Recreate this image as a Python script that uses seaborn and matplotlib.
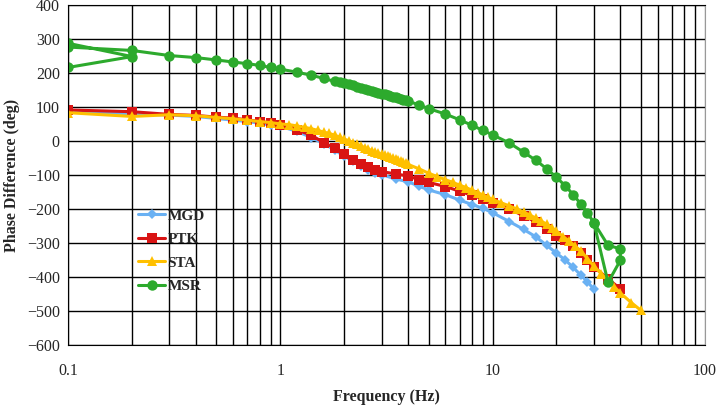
import pandas as pd
import seaborn as sns
import matplotlib
matplotlib.use("Agg")
import matplotlib.pyplot as plt
from matplotlib.ticker import LogLocator, NullFormatter, MultipleLocator

# frequency grids (Hz)
f_mgd = [0.1, 0.2, 0.3, 0.4, 0.5, 0.6, 0.7, 0.8, 0.9, 1.0,
         1.2, 1.4, 1.6, 1.8, 2.0, 2.2, 2.4, 2.6, 2.8, 3.0,
         3.5, 4, 4.5, 5, 6, 7, 8, 9, 10,
         12, 14, 16, 18, 20, 22, 24, 26, 28, 30]
f_ptk = f_mgd + [35, 40]
f_sta = [0.1, 0.2, 0.3, 0.4, 0.5, 0.6, 0.7, 0.8, 0.9, 1.0,
         1.1, 1.2, 1.3, 1.4, 1.5, 1.6, 1.7, 1.8, 1.9, 2.0,
         2.1, 2.2, 2.3, 2.4, 2.5, 2.6, 2.7, 2.8, 2.9, 3.0,
         3.1, 3.2, 3.3, 3.4, 3.5, 3.6, 3.7, 3.8, 3.9, 4.0,
         4.5, 5, 5.5, 6, 6.5, 7, 7.5, 8, 8.5, 9, 9.5, 10,
         11, 12, 13, 14, 15, 16, 17, 18, 19, 20,
         21.5, 23, 24.5, 26, 28, 30, 32.5, 35, 37.5, 40, 45, 50]
f_msr = [0.1, 0.2, 0.1, 0.1, 0.2,
         0.3, 0.4, 0.5, 0.6, 0.7, 0.8, 0.9, 1.0,
         1.2, 1.4, 1.6, 1.8,
         1.9, 2.0, 2.1, 2.2, 2.3, 2.4, 2.5, 2.6, 2.7, 2.8, 2.9, 3.0,
         3.1, 3.2, 3.3, 3.4, 3.5, 3.6, 3.7, 3.8, 3.9, 4.0,
         4.5, 5, 6, 7, 8, 9, 10,
         12, 14, 16, 18, 20, 22, 24, 26, 28, 30,
         35, 40, 40, 35, 30]

# phase difference (deg)
mgd = [85, 80, 76, 72, 66, 61, 57, 52, 47, 43,
       28, 10, -8, -26, -45, -60, -74, -85, -93, -99,
       -112, -120, -133, -144, -158, -174, -187, -198, -211,
       -237, -260, -282, -307, -330, -350, -372, -394, -414, -436]
ptk = [91, 86, 78, 75, 70, 67, 62, 57, 53, 47,
       32, 17, -5, -20, -37, -56, -69, -78, -85, -90,
       -97, -103, -114, -122, -134, -148, -160, -170, -181,
       -200, -220, -238, -258, -278, -290, -310, -330, -350, -370,
       -405, -435]
sta = [83, 72, 77, 74, 69, 65, 61, 57, 54, 50,
       48, 44, 40, 36, 31, 26, 22, 17, 11, 5,
       1, -5, -10, -15, -20, -24, -29, -33, -36, -39,
       -42, -45, -48, -51, -54, -57, -60, -63, -66, -69,
       -82, -95, -105, -114, -122, -130, -137, -145, -152, -159, -166, -172,
       -182, -191, -200, -209, -218, -227, -236, -245, -255, -265,
       -281, -295, -309, -323, -346, -368, -390, -410, -429, -447, -475, -498]
msr = [216, 248, 287, 276, 266,
       251, 245, 238, 232, 227, 222, 216, 211,
       202, 193, 184, 175,
       172, 169, 166, 163, 160, 157, 154, 151, 148, 145, 142, 139,
       137, 135, 133, 130, 128, 126, 124, 121, 119, 117,
       106, 95, 79, 62, 46, 31, 18,
       -6, -33, -57, -82, -107, -132, -158, -185, -212, -240,
       -307, -317, -351, -416, -240]

names = ["MGD", "PTK", "STA", "MSR"]
freqs = [f_mgd, f_ptk, f_sta, f_msr]
phases = [mgd, ptk, sta, msr]
palette = {"MGD": "#6AB1F3", "PTK": "#D91414", "STA": "#FFC000", "MSR": "#2DAA2D"}
markers = {"MGD": "D", "PTK": "s", "STA": "^", "MSR": "o"}
msizes = {"MGD": 5.5, "PTK": 7, "STA": 7, "MSR": 7.5}

xticks = [0.1, 1, 10, 100]
xticklabels = ["0.1", "1", "10", "100"]

sns.set_style("white")
plt.rcParams["font.family"] = ["Liberation Serif", "DejaVu Serif"]

fig = plt.figure(figsize=(7.17, 4.05), dpi=100)
ax = fig.add_axes([0.095, 0.148, 0.888, 0.840])

for name, f, p in zip(names, freqs, phases):
    df = pd.DataFrame({"freq": f, "phase": p})
    sns.lineplot(
        x="freq",
        y="phase",
        data=df,
        sort=False,
        estimator=None,
        color=palette[name],
        marker=markers[name],
        markersize=msizes[name],
        markeredgewidth=0,
        linewidth=2.2,
        label=name,
        ax=ax,
    )

ax.set_xscale("log")
ax.set(xlim=(0.1, 100), ylim=(-600, 400))
ax.set_xticks(xticks)
ax.set_xticklabels(xticklabels)
ax.xaxis.set_minor_locator(LogLocator(base=10, subs=range(2, 10)))
ax.xaxis.set_minor_formatter(NullFormatter())
ax.yaxis.set_major_locator(MultipleLocator(100))
ax.grid(which="both", axis="both", color="black", linewidth=1.0)
ax.set_axisbelow(True)
ax.tick_params(which="both", length=0, labelsize=11.5, pad=6)
ax.tick_params(axis="x", pad=13)
for side in ["left", "bottom", "top"]:
    ax.spines[side].set_color("black")
ax.spines["right"].set_color("#999999")
ax.xaxis.get_gridlines()[-1].set_color("#999999")

ax.set_xlabel("Frequency (Hz)", fontsize=11.5, fontweight="bold", labelpad=7)
ax.set_ylabel("Phase Difference (deg)", fontsize=11.5, fontweight="bold", labelpad=5)

ax.legend(
    loc="upper left",
    bbox_to_anchor=(0.088, 0.44),
    frameon=False,
    prop={"weight": "bold", "size": 11},
    handlelength=1.8,
    handletextpad=0.15,
    labelspacing=0.64,
)

plt.savefig("out.png", dpi=100)
